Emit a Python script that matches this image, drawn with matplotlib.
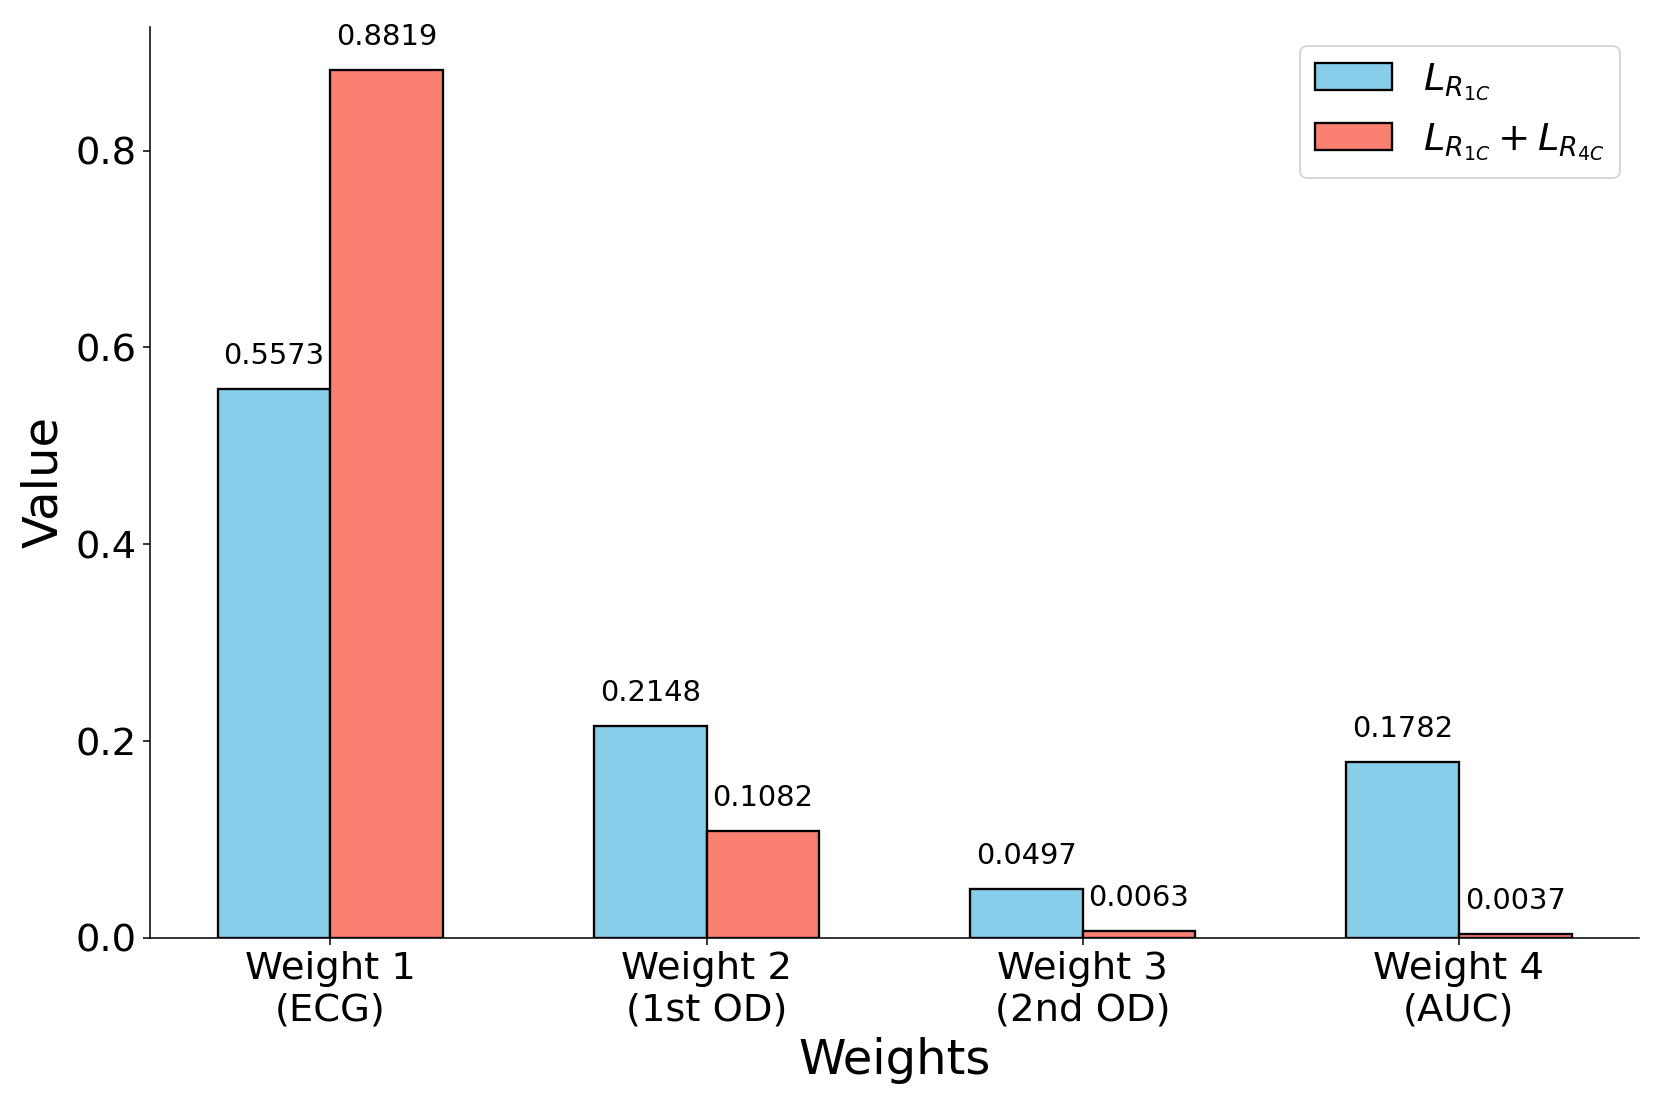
import matplotlib
matplotlib.use("Agg")
import matplotlib.pyplot as plt
import numpy as np

categories = ["Weight 1\n(ECG)", "Weight 2\n(1st OD)", "Weight 3\n(2nd OD)", "Weight 4\n(AUC)"]
series1 = [0.5573, 0.2148, 0.0497, 0.1782]
series2 = [0.8819, 0.1082, 0.0063, 0.0037]
labels = [r"$L_{R_{1C}}$", r"$L_{R_{1C}} + L_{R_{4C}}$"]

fig, ax = plt.subplots(figsize=(12, 8), dpi=138.4)
fig.subplots_adjust(left=0.0903, right=0.987, bottom=0.153, top=0.9756)

x = np.arange(len(categories))
w = 0.3
b1 = ax.bar(x - w / 2, series1, w, color="skyblue", edgecolor="black", linewidth=1.2, label=labels[0])
b2 = ax.bar(x + w / 2, series2, w, color="salmon", edgecolor="black", linewidth=1.2, label=labels[1])

for bars, vals in ((b1, series1), (b2, series2)):
    for r, v in zip(bars, vals):
        ax.annotate(f"{v:.4f}", (r.get_x() + r.get_width() / 2, v), xytext=(0, 10),
                    textcoords="offset points", ha="center", va="bottom", fontsize=15)

ax.set_ylim(0, max(series2) * 1.05)
ax.set_xticks(x)
ax.set_xticklabels(categories, fontsize=20)
ax.tick_params(axis="y", labelsize=20)
ax.set_xlabel("Weights", fontsize=25)
ax.set_ylabel("Value", fontsize=25)
ax.spines["top"].set_visible(False)
ax.spines["right"].set_visible(False)
ax.legend(fontsize=20, loc="upper right")

fig.savefig("out.png", dpi=138.4)
